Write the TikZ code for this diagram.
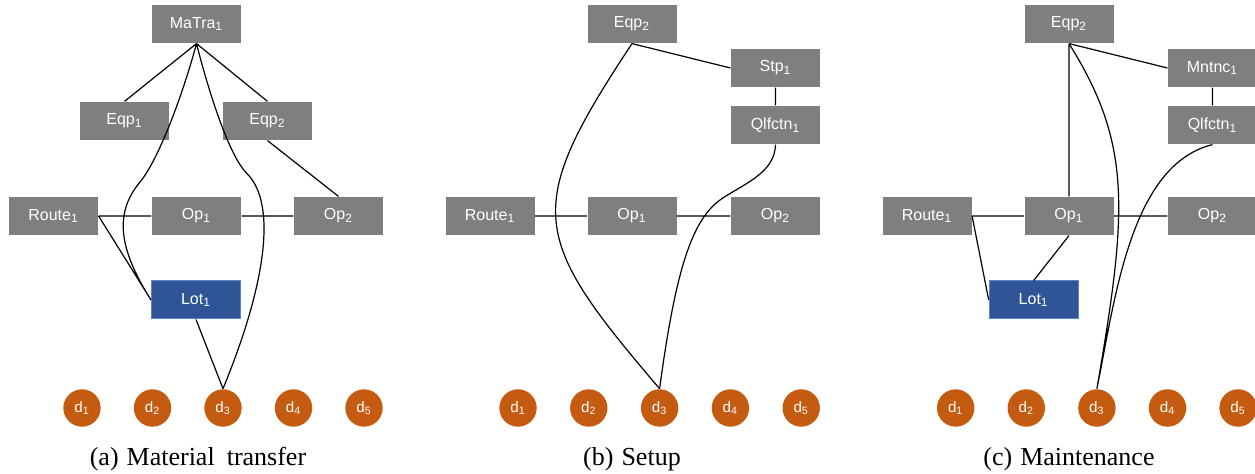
\documentclass[tikz,border=0pt]{standalone}
\usepackage{fontspec}
\setmainfont{Liberation Serif}
\setsansfont{Liberation Sans}
\definecolor{entgray}{HTML}{7F7F7F}
\definecolor{lotblue}{HTML}{2F5597}
\definecolor{lotedge}{HTML}{5B85C8}
\definecolor{dorange}{HTML}{C55A11}

\begin{document}
\begin{tikzpicture}[x=0.5pt, y=-0.5pt, line width=0.6pt,
  ent/.style={fill=entgray, text=white, minimum width=44.5pt, minimum height=19pt,
    inner sep=0pt, font=\sffamily\fontsize{8}{9.5}\selectfont},
  lotbox/.style={ent, fill=lotblue, draw=lotedge, line width=0.5pt},
  dnode/.style={circle, fill=dorange, text=white, minimum size=18.7pt, inner sep=0pt,
    font=\sffamily\fontsize{7.6}{9}\selectfont},
  capt/.style={anchor=base, font=\fontsize{13}{15}\selectfont}]
  \useasboundingbox (0,0) rectangle (1255,474);

  \node[ent] (MaTra) at (196.5,24) {MaTra\textsubscript{1}};
  \node[ent] (Eqp1a) at (124.5,121) {Eqp\textsubscript{1}};
  \node[ent] (Eqp2a) at (267.5,121) {Eqp\textsubscript{2}};
  \node[ent] (Routea) at (53.5,216) {Route\textsubscript{1}};
  \node[ent] (Op1a) at (196.5,216) {Op\textsubscript{1}};
  \node[ent] (Op2a) at (338.5,216) {Op\textsubscript{2}};
  \node[lotbox] (Lota) at (196,300) {Lot\textsubscript{1}};
  \foreach \i in {1,...,5}
    \node[dnode] (a\i) at ({82+70.5*(\i-1)},408) {d\textsubscript{\i}};
  \node[capt] (capa) at (198,466) {(a)\hspace{4pt}Material\hspace{6pt}transfer};

  \node[ent] (Eqp2b) at (632,24) {Eqp\textsubscript{2}};
  \node[ent] (Stpb) at (775.5,68) {Stp\textsubscript{1}};
  \node[ent] (Qlfb) at (775.5,125) {Qlfctn\textsubscript{1}};
  \node[ent] (Routeb) at (490,216) {Route\textsubscript{1}};
  \node[ent] (Op1b) at (632,216) {Op\textsubscript{1}};
  \node[ent] (Op2b) at (775.5,216) {Op\textsubscript{2}};
  \foreach \i in {1,...,5}
    \node[dnode] (b\i) at ({518+70.8*(\i-1)},408) {d\textsubscript{\i}};
  \node[capt] (capb) at (632,466) {(b)\hspace{4pt}Setup};

  \node[ent] (Eqp2c) at (1069,24) {Eqp\textsubscript{2}};
  \node[ent] (Mntc) at (1212.5,68) {Mntnc\textsubscript{1}};
  \node[ent] (Qlfc) at (1212.5,125) {Qlfctn\textsubscript{1}};
  \node[ent] (Routec) at (927,216) {Route\textsubscript{1}};
  \node[ent] (Op1c) at (1069,216) {Op\textsubscript{1}};
  \node[ent] (Op2c) at (1212.5,216) {Op\textsubscript{2}};
  \node[lotbox] (Lotc) at (1033.7,300) {Lot\textsubscript{1}};
  \foreach \i in {1,...,5}
    \node[dnode] (c\i) at ({955.7+70.6*(\i-1)},408) {d\textsubscript{\i}};
  \node[capt] (capc) at (1069,466) {(c)\hspace{4pt}Maintenance};

  \draw
  (MaTra.south) -- (Eqp1a.north)
  (MaTra.south) -- (Eqp2a.north)
  (Eqp2a.south) -- (Op2a.north)
  (Routea.east) -- (Op1a.west)
  (Op1a.east) -- (Op2a.west)
  (Routea.east) -- (Lota.west)
  (Lota.south) -- (a3.north)
  (MaTra.south) .. controls (183.7,91.6) and (159.2,158.9) .. (140,182)
    .. controls (114.4,212.8) and (118.1,248) .. (Lota.west)
  (MaTra.south) .. controls (208.7,91.8) and (229,155.6) .. (246.7,173.3)
    .. controls (278,204) and (265,286.7) .. (a3.north);

  \draw
  (Eqp2b.south) -- (Stpb.west)
  (Stpb.south) -- (Qlfb.north)
  (Routeb.east) -- (Op1b.west)
  (Op1b.east) -- (Op2b.west)
  (Eqp2b.south) .. controls (522.3,209.3) and (530,237) .. (b3.north)
  (Qlfb.south) .. controls (775,174) and (740.3,185.3) .. (720,200)
    .. controls (691.7,220.7) and (675.6,270.2) .. (b3.north);

  \draw
  (Eqp2c.south) -- (Mntc.west)
  (Mntc.south) -- (Qlfc.north)
  (Eqp2c.south) -- (Op1c.north)
  (Routec.east) -- (Op1c.west)
  (Op1c.east) -- (Op2c.west)
  (Routec.east) -- (Lotc.west)
  (Op1c.south) -- (Lotc.north)
  (Eqp2c.south) .. controls (1132.6,145) and (1127.3,211.7) .. (c3.north)
  (Qlfc.south) .. controls (1130,165) and (1115,300) .. (c3.north);
\end{tikzpicture}
\end{document}
